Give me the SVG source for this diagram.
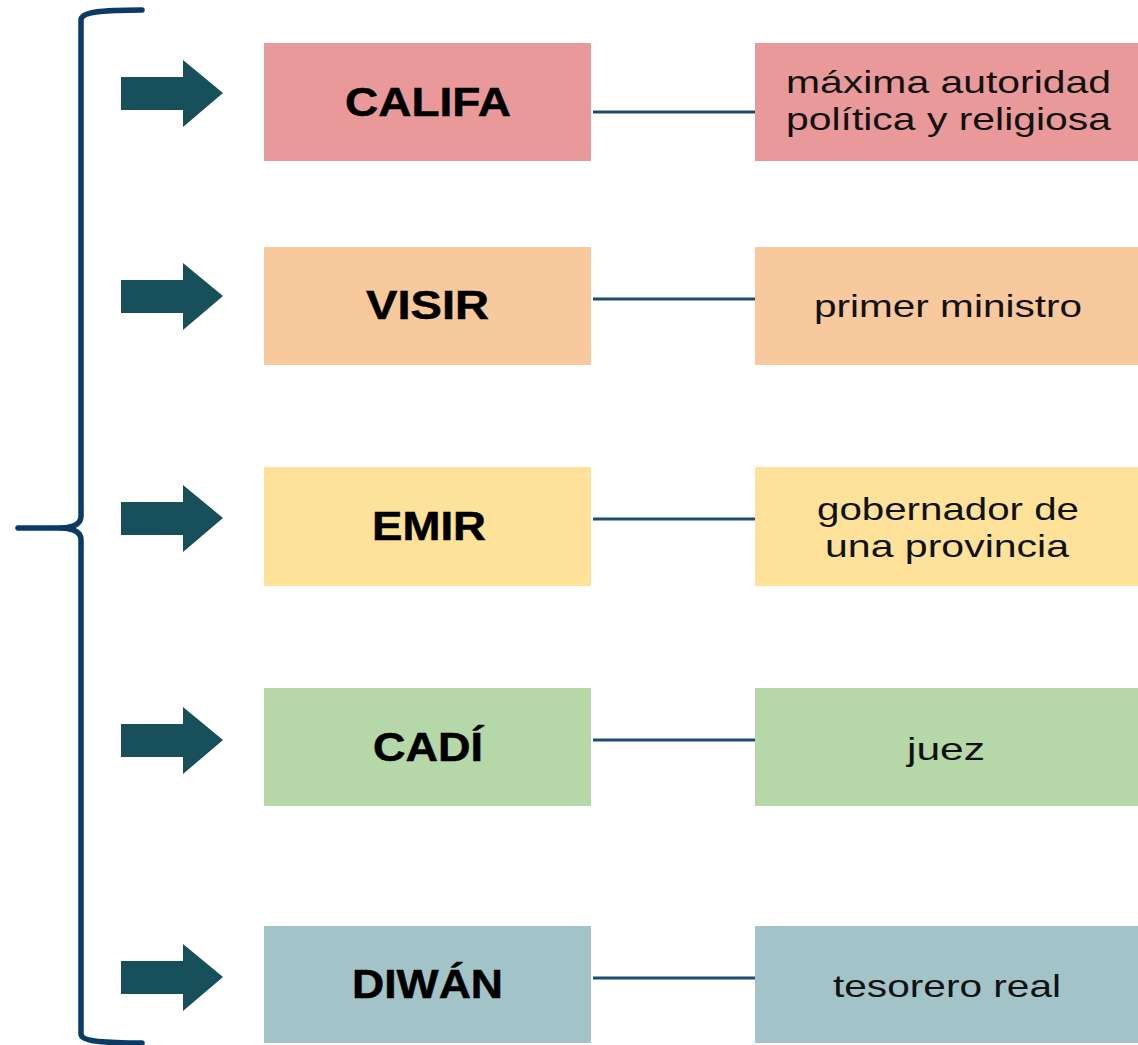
<svg xmlns="http://www.w3.org/2000/svg" width="1138" height="1045" viewBox="0 0 1138 1045">
<style>
.lbl{font-family:"Liberation Sans",Arial,sans-serif;font-weight:bold;font-size:40px;fill:#000;stroke:#000;stroke-width:0.5}
.desc{font-family:"Liberation Sans",Arial,sans-serif;font-size:32px;fill:#111}
.arrow{fill:#17505A}
.conn{stroke:#1F4A72;stroke-width:3;fill:none}
.brace{stroke:#0B3A66;stroke-width:5.5;fill:none;stroke-linecap:round;stroke-linejoin:round}
</style>
<defs>
<path id="arr" d="M121,-16 H183 V-33 L223,0 L183,34 V17 H121 Z"/>
</defs>
<rect width="1138" height="1045" fill="#fff"/>
<g id="brace">
<path class="brace" d="M142,10 C100,10 81,12 81,20 L81,516 Q81,527 62,528 L18,528"/>
<path class="brace" d="M62,528 Q81,529 81,540 L81,1034 C81,1041 100,1043 142,1043"/>
</g>
<g id="arrows">
<use href="#arr" class="arrow" transform="translate(0,93)"/>
<use href="#arr" class="arrow" transform="translate(0,296)"/>
<use href="#arr" class="arrow" transform="translate(0,518)"/>
<use href="#arr" class="arrow" transform="translate(0,740)"/>
<use href="#arr" class="arrow" transform="translate(0,977)"/>
</g>
<g id="connectors">
<line class="conn" x1="593" y1="112" x2="756" y2="112"/>
<line class="conn" x1="593" y1="299" x2="756" y2="299"/>
<line class="conn" x1="593" y1="519" x2="756" y2="519"/>
<line class="conn" x1="593" y1="740" x2="756" y2="740"/>
<line class="conn" x1="593" y1="978" x2="756" y2="978"/>
</g>
<g id="califa">
<rect x="264" y="43" width="327" height="118" fill="#E99999"/>
<text class="lbl" x="345" y="116" textLength="166" lengthAdjust="spacingAndGlyphs">CALIFA</text>
</g>
<g id="califa-desc">
<rect x="755" y="43" width="383" height="118" fill="#E99999"/>
<text class="desc" x="786" y="93" textLength="325" lengthAdjust="spacingAndGlyphs">máxima autoridad</text>
<text class="desc" x="786" y="130" textLength="325" lengthAdjust="spacingAndGlyphs">política y religiosa</text>
</g>
<g id="visir">
<rect x="264" y="247" width="327" height="118" fill="#F8C99C"/>
<text class="lbl" x="366" y="319" textLength="123" lengthAdjust="spacingAndGlyphs">VISIR</text>
</g>
<g id="visir-desc">
<rect x="755" y="247" width="383" height="118" fill="#F8C99C"/>
<text class="desc" x="814" y="317" textLength="268" lengthAdjust="spacingAndGlyphs">primer ministro</text>
</g>
<g id="emir">
<rect x="264" y="467" width="327" height="119" fill="#FEE29A"/>
<text class="lbl" x="372" y="540" textLength="114" lengthAdjust="spacingAndGlyphs">EMIR</text>
</g>
<g id="emir-desc">
<rect x="755" y="467" width="383" height="119" fill="#FEE29A"/>
<text class="desc" x="817" y="520" textLength="262" lengthAdjust="spacingAndGlyphs">gobernador de</text>
<text class="desc" x="825" y="557" textLength="244" lengthAdjust="spacingAndGlyphs">una provincia</text>
</g>
<g id="cadi">
<rect x="264" y="688" width="327" height="118" fill="#B6D7A8"/>
<text class="lbl" x="373" y="761" textLength="110" lengthAdjust="spacingAndGlyphs">CADÍ</text>
</g>
<g id="cadi-desc">
<rect x="755" y="688" width="383" height="118" fill="#B6D7A8"/>
<text class="desc" x="907" y="760" textLength="78" lengthAdjust="spacingAndGlyphs">juez</text>
</g>
<g id="diwan">
<rect x="264" y="926" width="327" height="117" fill="#A2C4C9"/>
<text class="lbl" x="352" y="998" textLength="151" lengthAdjust="spacingAndGlyphs">DIWÁN</text>
</g>
<g id="diwan-desc">
<rect x="755" y="926" width="383" height="117" fill="#A2C4C9"/>
<text class="desc" x="833" y="997" textLength="228" lengthAdjust="spacingAndGlyphs">tesorero real</text>
</g>
</svg>
